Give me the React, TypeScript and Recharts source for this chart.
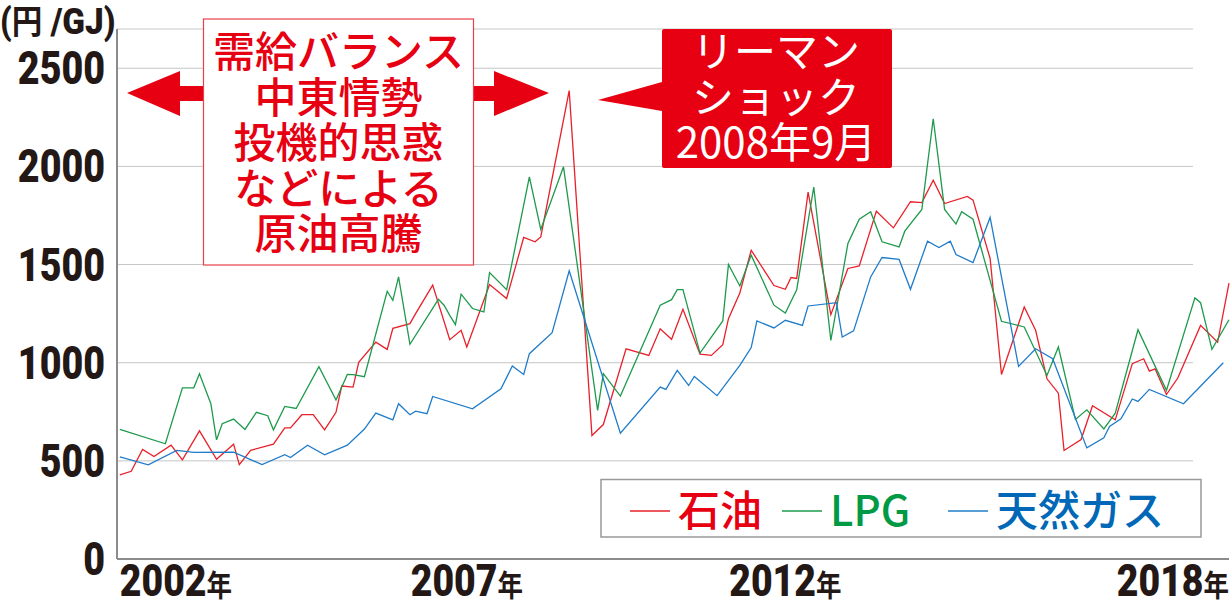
import React from 'react';
import { LineChart, Line, XAxis, YAxis, CartesianGrid } from 'recharts';

// x = months counted from Jan 2002, y = 円/GJ
const oil: [number, number][] = [
    [0, 429], [2, 447], [4, 558], [6, 522], [9, 580], [11, 505], [14, 653], [17, 508],
    [20, 585], [21, 481], [23, 554], [27, 585], [29, 668], [30, 668], [32, 735], [34, 735],
    [36, 658], [38, 747], [39, 881], [41, 876], [42, 1002], [45, 1105], [47, 1068], [48, 1175],
    [51, 1199], [52, 1250], [55, 1395], [58, 1117], [60, 1165], [61, 1080], [65, 1398], [68, 1327],
    [71, 1638], [73, 1616], [74, 1641], [79, 2386], [83, 629], [85, 685], [89, 1071], [93, 1037],
    [95, 1173], [97, 1119], [99, 1272], [102, 1043], [104, 1037], [106, 1092], [107, 1224], [109, 1355],
    [111, 1573], [115, 1393], [117, 1374], [118, 1434], [119, 1429], [121, 1869], [125, 1245], [128, 1480],
    [130, 1493], [133, 1772], [136, 1687], [139, 1820], [141, 1816], [143, 1930], [145, 1811], [149, 1847],
    [150, 1828], [153, 1531], [155, 940], [159, 1284], [161, 1165], [163, 918], [165, 845], [166, 553],
    [169, 609], [171, 781], [175, 709], [178, 995], [180, 1020], [181, 957], [182, 969], [184, 838],
    [186, 922], [190, 1190], [193, 1104], [195, 1406],
];

const lpg: [number, number][] = [
    [0, 660], [8, 587], [11, 872], [13, 872], [14, 944], [16, 791], [17, 607], [18, 689],
    [20, 713], [22, 660], [24, 747], [26, 730], [27, 658], [29, 777], [31, 767], [35, 980],
    [38, 810], [40, 940], [41, 939], [43, 929], [47, 1364], [48, 1318], [49, 1437], [51, 1094],
    [56, 1323], [57, 1293], [58, 1241], [59, 1194], [60, 1349], [62, 1276], [64, 1259], [65, 1459],
    [68, 1372], [72, 1947], [74, 1679], [78, 1998], [84, 757], [85, 944], [88, 830], [95, 1293],
    [97, 1321], [98, 1372], [99, 1372], [102, 1049], [106, 1213], [107, 1500], [109, 1391], [111, 1548],
    [115, 1293], [117, 1253], [119, 1372], [122, 1895], [125, 1114], [128, 1607], [130, 1731], [132, 1769],
    [134, 1616], [137, 1590], [138, 1670], [141, 1781], [143, 2243], [145, 1781], [147, 1706], [148, 1769],
    [150, 1731], [155, 1211], [159, 1182], [163, 935], [165, 1080], [168, 711], [170, 760], [173, 663],
    [175, 743], [179, 1168], [184, 859], [189, 1330], [190, 1306], [192, 1068], [195, 1219],
];

const gas: [number, number][] = [
    [0, 520], [5, 480], [10, 553], [13, 543], [20, 544], [25, 481], [29, 531], [30, 517],
    [33, 580], [36, 531], [40, 580], [43, 662], [45, 743], [48, 709], [49, 791], [51, 735],
    [52, 753], [54, 740], [55, 828], [62, 765], [67, 867], [69, 983], [71, 940], [72, 1046],
    [76, 1153], [79, 1468], [88, 641], [95, 876], [96, 864], [98, 961], [100, 884], [101, 930],
    [105, 832], [109, 986], [111, 1077], [112, 1213], [115, 1177], [117, 1216], [120, 1190], [121, 1289],
    [126, 1306], [127, 1131], [129, 1162], [132, 1437], [134, 1536], [137, 1526], [139, 1374], [142, 1619],
    [144, 1587], [146, 1619], [147, 1551], [150, 1510], [153, 1740], [158, 981], [161, 1071], [164, 1020],
    [170, 566], [173, 617], [174, 675], [176, 714], [178, 815], [179, 803], [181, 864], [187, 791],
    [194, 1000],
];

const yTicks = [0, 500, 1000, 1500, 2000, 2500];
const xTicks = [0, 61, 117, 195];
const xTickLabels = ['2002', '2007', '2012', '2018'];

const seriesNames = ['石油', 'LPG', '天然ガス'];
const boomNote = ['需給バランス', '中東情勢', '投機的思惑', 'などによる', '原油高騰'];
const lehmanNote = ['リーマン', 'ショック', '2008年9月'];

const RED = '#e60012';
const GREEN = '#009944';
const BLUE = '#0068b7';
const INK = '#231815';
const HEAVY = "Roboto, 'Liberation Sans', 'Noto Sans CJK JP', sans-serif";
const CJK = "'Noto Sans CJK JP', sans-serif";

const lookup = (arr: [number, number][], m: number) => {
    const hit = arr.find((p) => p[0] === m);
    return hit ? hit[1] : null;
};

const months = Array.from(new Set([...oil, ...lpg, ...gas].map((p) => p[0]))).sort((a, b) => a - b);
const table = months.map((m) => ({
    m,
    oil: lookup(oil, m),
    lpg: lookup(lpg, m),
    gas: lookup(gas, m),
}));

const series = [
    { key: 'oil', name: seriesNames[0], line: '#e8202a', text: RED, legendX: 29 },
    { key: 'lpg', name: seriesNames[1], line: '#1e9a4c', text: GREEN, legendX: 181 },
    { key: 'gas', name: seriesNames[2], line: '#1f7cc9', text: BLUE, legendX: 347 },
];

// condensed look: squeeze a heavy face horizontally
const YTick = ({ x, y, payload }: any) => (
    <text
        transform={`translate(${x},${y + 16}) scale(0.8,1)`}
        textAnchor="end"
        fill={INK}
        style={{ fontFamily: HEAVY, fontSize: 47, fontWeight: 900 }}
    >
        {payload.value}
    </text>
);

const XTick = ({ x, y, payload }: any) => {
    const i = xTicks.indexOf(payload.value);
    const anchor = i === 0 ? 'start' : i === xTicks.length - 1 ? 'end' : 'middle';
    return (
        <text
            transform={`translate(${x},${y + 37}) scale(0.85,1)`}
            textAnchor={anchor}
            fill={INK}
            style={{ fontFamily: HEAVY, fontWeight: 900 }}
        >
            <tspan fontSize={44}>{xTickLabels[i]}</tspan>
            <tspan fontSize={30} style={{ fontFamily: CJK, fontWeight: 700 }}>年</tspan>
        </text>
    );
};

export default function App() {
    return (
        <div
            style={{
                position: 'absolute',
                left: 0,
                top: 0,
                width: 1231,
                height: 600,
                background: '#fff',
                overflow: 'hidden',
            }}
        >
            <LineChart
                width={1231}
                height={600}
                data={table}
                margin={{ top: 29, right: 2, bottom: 0, left: 0 }}
            >
                <CartesianGrid vertical={false} stroke="#c6c6c6" strokeWidth={1} width={1076} />
                <XAxis
                    type="number"
                    dataKey="m"
                    domain={[-0.5, 195]}
                    ticks={xTicks}
                    interval={0}
                    height={41}
                    tickLine={false}
                    tickSize={0}
                    tickMargin={0}
                    axisLine={{ stroke: '#8c8c8c', strokeWidth: 2 }}
                    tick={<XTick />}
                />
                <YAxis
                    width={117}
                    domain={[0, 2700]}
                    ticks={yTicks}
                    interval={0}
                    tickLine={false}
                    tickSize={0}
                    tickMargin={12}
                    axisLine={{ stroke: '#8c8c8c', strokeWidth: 2 }}
                    tick={<YTick />}
                />
                {series.map((s) => (
                    <Line
                        key={s.key}
                        type="linear"
                        dataKey={s.key}
                        name={s.name}
                        stroke={s.line}
                        strokeWidth={1.3}
                        dot={false}
                        activeDot={false}
                        connectNulls
                        isAnimationActive={false}
                    />
                ))}
            </LineChart>

            {/* annotations drawn over the plot */}
            <svg
                width={1231}
                height={600}
                style={{ position: 'absolute', left: 0, top: 0, pointerEvents: 'none' }}
            >
                <text
                    transform="translate(0,34) scale(0.9,1)"
                    fill={INK}
                    style={{ fontFamily: HEAVY, fontSize: 37, fontWeight: 900 }}
                >
                    (<tspan style={{ fontFamily: CJK, fontWeight: 700 }} fontSize={34}>円</tspan> /GJ)
                </text>

                <polygon points="127,93 180,71 180,86 203,86 203,101 180,101 180,116" fill={RED} />
                <polygon points="549,93 494,71 494,86 474,86 474,101 494,101 494,116" fill={RED} />
                <rect x={203.5} y={19} width={270} height={246} fill="#fff" stroke="#e8404a" strokeWidth={1.2} />
                <text
                    textAnchor="middle"
                    fill={RED}
                    style={{ fontFamily: CJK, fontSize: 42, fontWeight: 500 }}
                >
                    {boomNote.map((t, i) => (
                        <tspan key={t} x={338.5} y={67 + i * 45.6}>
                            {t}
                        </tspan>
                    ))}
                </text>

                <polygon points="598,100 662,82 662,111" fill={RED} />
                <rect x={662} y={29} width={230} height={139} rx={2} fill={RED} />
                <text
                    textAnchor="middle"
                    fill="#fff"
                    style={{ fontFamily: CJK, fontSize: 42, fontWeight: 400 }}
                >
                    {lehmanNote.map((t, i) => (
                        <tspan key={t} x={776} y={67 + i * 45.6}>
                            {t}
                        </tspan>
                    ))}
                </text>

                <rect x={601} y={479.5} width={600} height={57.5} fill="#fff" stroke="#999" strokeWidth={1.5} />
                {series.map((s) => (
                    <g key={s.key}>
                        <line
                            x1={601 + s.legendX}
                            x2={601 + s.legendX + 40}
                            y1={511}
                            y2={511}
                            stroke={s.line}
                            strokeWidth={1.3}
                        />
                        <text
                            x={601 + s.legendX + 48}
                            y={526}
                            fill={s.text}
                            style={{ fontFamily: CJK, fontSize: 42, fontWeight: 500 }}
                        >
                            {s.name}
                        </text>
                    </g>
                ))}
            </svg>
        </div>
    );
}
